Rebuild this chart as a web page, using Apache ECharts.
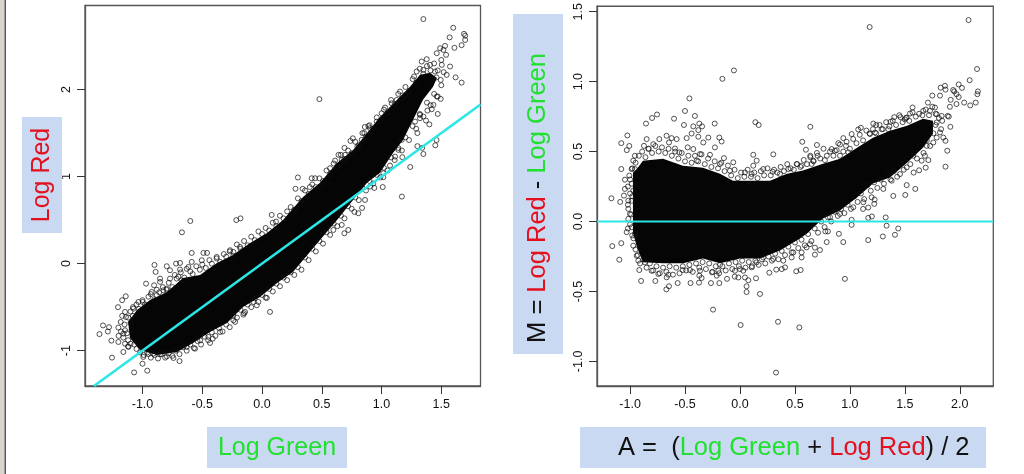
<!DOCTYPE html>
<html><head><meta charset="utf-8">
<style>html,body{margin:0;padding:0;background:#fff}#c{width:1024px;height:474px}</style>
<script src="https://cdn.jsdelivr.net/npm/echarts@6/dist/echarts.min.js"></script>
</head><body><div id="c"></div>
<script>
const leftXTicks=[-1,-0.5,0,0.5,1,1.5];
const leftYTicks=[-1,0,1,2];
const rightXTicks=[-1,-0.5,0,0.5,1,1.5,2];
const rightYTicks=[-1,-0.5,0,0.5,1,1.5];
const leftIdentity=[[-1.406,-1.406],[1.828,1.828]];
const rightBaseline=[[-1.301,0],[2.305,0]];
// Solid-black dense core of each cloud, outline
const leftCore=[[-1.12,-0.67],[-1.046,-0.532],[-0.937,-0.417],[-0.795,-0.325],[-0.661,-0.164],[-0.519,-0.13],[-0.377,0.008],[-0.243,0.10],[-0.10,0.238],[0.042,0.353],[0.176,0.502],[0.343,0.767],[0.485,0.928],[0.628,1.157],[0.762,1.307],[0.879,1.502],[0.987,1.686],[1.13,1.882],[1.238,2.031],[1.322,2.169],[1.406,2.192],[1.464,2.134],[1.431,2.031],[1.347,1.882],[1.264,1.652],[1.18,1.422],[1.096,1.272],[0.987,1.043],[0.879,0.928],[0.762,0.732],[0.628,0.502],[0.485,0.272],[0.259,-0.095],[0.126,-0.222],[-0.017,-0.383],[-0.159,-0.498],[-0.293,-0.682],[-0.435,-0.785],[-0.577,-0.912],[-0.711,-1.015],[-0.879,-1.049],[-1.021,-0.992],[-1.105,-0.854]];
const rightCore=[[-0.974,0.114],[-0.974,0.349],[-0.937,0.378],[-0.883,0.435],[-0.70,0.449],[-0.519,0.399],[-0.337,0.385],[-0.182,0.342],[-0.064,0.292],[0.118,0.292],[0.273,0.292],[0.428,0.342],[0.573,0.364],[0.755,0.413],[0.91,0.449],[1.065,0.527],[1.21,0.599],[1.365,0.649],[1.52,0.684],[1.665,0.734],[1.756,0.72],[1.756,0.627],[1.665,0.527],[1.52,0.42],[1.365,0.314],[1.21,0.271],[1.065,0.171],[0.91,0.078],[0.755,0.021],[0.61,-0.086],[0.546,-0.121],[0.364,-0.207],[0.182,-0.264],[0,-0.264],[-0.182,-0.299],[-0.337,-0.264],[-0.519,-0.299],[-0.70,-0.299],[-0.883,-0.292],[-0.937,-0.185],[-0.974,-0.078]];
const leftPoints=[[1.35,2.81],[1.60,2.71],[1.57,2.60],[1.69,2.64],[1.70,2.62],[1.70,2.57],[1.67,2.51],[1.61,2.48],[1.62,2.14],[1.67,2.08],[0.48,1.89],[1.47,1.72],[1.40,1.60],[1.30,1.50],[1.46,1.42],[1.45,1.36],[1.30,1.35],[1.34,1.33],[1.35,1.26],[1.24,1.11],[1.01,0.88],[0.94,0.87],[1.17,0.77],[0.30,0.99],[0.28,0.86],[0.34,0.86],[0.40,0.88],[0.76,1.44],[0.74,1.41],[0.69,1.33],[0.64,1.25],[0.86,1.57],[0.89,1.58],[-0.60,0.49],[-0.67,0.36],[-0.215,0.50],[-0.18,0.52],
[-1.36,-0.81],[-1.33,-0.71],[-1.29,-0.78],[-1.28,-0.73],[-1.26,-0.885],[-1.255,-1.08],[-1.07,-1.25],[-0.96,-1.23],[-1.0,-1.15],[-1.205,-0.50],[-1.17,-0.42],[-1.14,-0.375],[-0.97,-0.23],[-0.90,-0.015],[-0.89,-0.095],[-0.69,-1.12],
[-1.034,-0.44],[-0.998,-0.44],[-1.076,-0.517],[-1.146,-0.555],[-1.138,-0.613],[-1.182,-0.67],[-1.202,-0.735],[-1.146,-0.766],[-1.16,-0.804],[-1.202,-0.90],[-1.146,-0.92],[-1.16,-1.015],[-1.118,-0.957],[-0.993,-1.072],[-0.951,-1.04],[-0.923,-0.325],[-0.881,-0.363],[-0.853,-0.172],[-0.853,-0.21],[-0.903,-0.249],[-0.825,-0.306],[-0.797,-0.03],[-0.77,-0.076],[-0.719,0],[-0.686,0.008],[-0.686,-0.068],[-0.77,-0.172],[-0.714,-0.172],[-0.672,-0.191],[-0.797,-0.287],[-0.588,0.02],[-0.616,-0.038],[-0.588,0.123],[-0.504,0.039],[-0.49,0.123],[-0.46,0.123],[-0.379,0.077],[-0.267,0.154],[-0.239,0.135],[-0.184,0.192],
[-0.797,-1.065],[-0.741,-1.084],[-0.853,-1.042],[-0.909,-1.034],[-0.63,-0.957],[-0.56,-0.977],[-0.518,-0.881],[-0.449,-0.842],[-0.435,-0.911],[-0.412,-0.862],[-0.351,-0.785],[-0.225,-0.67],[-0.239,-0.651],[-0.142,-0.555],[-0.156,-0.586],[-0.044,-0.478],[-0.072,-0.44],[0.04,-0.394],[0.067,-0.555],
[0.416,0.981],[0.444,0.981],[0.485,0.885],[0.541,0.924],[0.569,1.096],[0.611,1.184],[0.667,1.192],[0.695,1.25],[0.798,1.345],[0.834,1.422],[0.856,1.5],[0.904,1.556],[0.96,1.632],[1.001,1.728],[1.03,1.793],[1.085,1.843],[1.127,1.881],[1.155,1.977],[1.197,1.939],[1.272,2.15],[1.294,2.207],[1.336,2.322],[1.378,2.349],[1.35,2.226],[1.406,2.284],[1.462,2.418],[1.49,2.475],[1.531,2.502],[1.54,2.399],[1.518,2.456],[1.448,2.207],[1.504,2.284],[1.573,2.265],[1.545,2.169],[1.495,2.111],[1.462,1.92],[1.495,1.893],[1.434,1.824],[1.42,1.774],[1.384,1.759],[1.322,1.709],[1.322,1.671],[1.28,1.632],[1.372,1.644],
[1.169,1.422],[1.141,1.307],[1.113,1.23],[1.174,1.223],[1.071,1.127],[1.015,1.039],[1.015,0.993],[0.904,0.885],[0.862,0.732],[0.837,0.64],[0.806,0.579],[0.773,0.594],[0.722,0.387],[0.689,0.349],[0.667,0.445],[0.597,0.387],[0.117,0.483],[0.081,0.56]];
const leftRimUpper=[[-1.18,-0.78],[-1.15,-0.70],[-1.12,-0.62],[-1.1,-0.68],[-1.13,-0.8],[-1.09,-0.76],[-1.2,-0.83],[-1.08,-0.6],[-1.16,-0.85],[-1.12,-0.95],[-1.17,-0.6],[-1.1,-0.55],[-1.08,-0.50],[-1.05,-0.47],[-1.03,-0.52],[-1.0,-0.42],[-0.98,-0.47],[-0.95,-0.38],[-0.93,-0.35],[-0.9,-0.41],[-0.88,-0.30],[-0.86,-0.33],[-0.83,-0.27],[-0.8,-0.30],[-0.78,-0.22],[-0.75,-0.27],[-0.73,-0.13],[-0.7,-0.15],[-0.68,-0.10],[-0.65,-0.16],[-0.63,-0.06],[-0.6,-0.09],[-0.58,-0.12],[-0.55,-0.03],[-0.52,-0.07],[-0.5,-0.01],[-0.47,-0.05],[-0.44,0.04],[-0.42,0.0],[-0.38,0.06],[-0.35,0.02],[-0.32,0.11],[-0.3,0.08],[-0.27,0.14],[-0.24,0.09],[-0.21,0.22],[-0.18,0.17],[-0.15,0.26],[-0.12,0.21],[-0.09,0.31],[-0.06,0.27],[-0.03,0.37],[0,0.34],[0.03,0.41],[0.06,0.38],[0.09,0.47],[0.12,0.43],[0.15,0.55],[0.18,0.52],[0.21,0.60],[0.24,0.65],[0.27,0.62],[0.3,0.75],[0.33,0.72],[0.36,0.84],[0.39,0.80],[0.42,0.91],[0.45,0.88],[0.48,0.98],[0.51,0.95],[0.54,1.07],[0.57,1.03],[0.6,1.15],[0.63,1.12],[0.66,1.25],[0.69,1.20],[0.72,1.30],[0.75,1.27],[0.78,1.40],[0.81,1.36],[0.84,1.50],[0.87,1.46],[0.9,1.59],[0.93,1.55],[0.96,1.68],[0.99,1.64],[1.02,1.77],[1.05,1.73],[1.08,1.88],[1.11,1.83],[1.14,1.95],[1.17,1.90],[1.2,2.03],[1.23,1.98],[1.26,2.12],[1.29,2.08],[1.32,2.24],[1.35,2.18],[1.38,2.27],[1.41,2.22],[1.44,2.30],[1.47,2.22],[1.5,2.34],[1.52,2.2],[1.46,2.14],[1.5,2.05]];
const leftRimLower=[[-1.12,-0.88],[-1.1,-0.92],[-1.07,-0.93],[-1.05,-0.98],[-1.02,-1.02],[-0.99,-1.05],[-0.96,-1.02],[-0.93,-1.08],[-0.9,-1.05],[-0.87,-1.09],[-0.84,-1.04],[-0.81,-1.08],[-0.78,-1.03],[-0.75,-1.06],[-0.72,-1.0],[-0.69,-1.04],[-0.66,-0.96],[-0.63,-1.0],[-0.6,-0.93],[-0.57,-0.97],[-0.54,-0.89],[-0.51,-0.93],[-0.48,-0.84],[-0.45,-0.88],[-0.42,-0.79],[-0.39,-0.83],[-0.36,-0.74],[-0.33,-0.78],[-0.3,-0.70],[-0.27,-0.73],[-0.24,-0.60],[-0.21,-0.62],[-0.18,-0.53],[-0.15,-0.57],[-0.12,-0.47],[-0.09,-0.5],[-0.06,-0.40],[-0.03,-0.44],[0,-0.36],[0.03,-0.39],[0.06,-0.29],[0.09,-0.32],[0.12,-0.23],[0.15,-0.26],[0.18,-0.16],[0.21,-0.19],[0.24,-0.10],[0.27,-0.13],[0.3,-0.04],[0.33,-0.07],[0.36,0.07],[0.39,0.04],[0.42,0.17],[0.45,0.14],[0.48,0.26],[0.51,0.23],[0.54,0.36],[0.57,0.33],[0.6,0.46],[0.63,0.43],[0.66,0.55],[0.69,0.52],[0.72,0.66],[0.75,0.63],[0.78,0.76],[0.81,0.73],[0.84,0.87],[0.87,0.84],[0.9,0.95],[0.93,0.92],[0.96,1.02],[0.99,0.99],[1.02,1.1],[1.05,1.07],[1.08,1.22],[1.11,1.19],[1.14,1.33],[1.17,1.30],[1.2,1.45],[1.23,1.42],[1.26,1.58],[1.29,1.55],[1.32,1.72],[1.35,1.69],[1.38,1.85],[1.41,1.82],[1.44,1.95],[1.47,1.92]];
const rightPoints=[[-0.055,1.08],[-0.16,1.02],[-0.46,0.88],[-0.50,0.79],[-0.41,0.755],[-0.60,0.735],[-0.755,0.765],[-0.80,0.74],[-0.855,0.70],[-0.51,0.69],[-0.425,0.68],[-0.37,0.70],[-0.345,0.68],[-0.23,0.70],[0.14,0.71],[0.17,0.69],[-1.025,0.615],[-1.08,0.56],[-1.007,0.54],[-1.03,0.51],[-1.08,0.375],[-1.17,0.166],[-1.09,0.14],
[2.08,1.44],[1.18,1.39],[2.157,1.09],[2.09,1.01],[1.99,0.98],[2.02,0.955],[1.94,0.94],[1.95,0.93],[1.97,0.91],[1.99,0.89],[2.165,0.93],[2.16,0.91],[2.145,0.85],[2.095,0.83],[2.04,0.85],[1.826,0.957],[1.865,0.97],[1.87,0.943],[1.75,0.90],[1.82,0.90],[1.71,0.85],[1.917,0.87],[1.97,0.84],[1.91,0.82],[1.57,0.815],[1.90,0.75],[1.89,0.755],[1.914,0.677],[1.87,0.577],[1.886,0.506],[1.87,0.392],[0.64,0.677],[0.567,0.57],[0.70,0.547],[0.60,0.513],[0.64,0.47],[0.707,0.47],[0.303,0.48],[1.10,0.67],[1.076,0.658],[1.016,0.625],[0.94,0.596],[0.895,0.56],[1.213,0.70],[1.24,0.69],[1.37,0.713],[1.404,0.746],[1.46,0.746],[1.50,0.73],[1.395,0.183],[1.504,0.19],[1.517,0.26],[1.595,0.233],[1.69,0.385],[1.63,0.366],[1.58,0.35],[1.326,0.029],[1.334,-0.03],[1.44,-0.05],[1.41,-0.095],[1.30,-0.107],[1.2,0.036],[1.167,0.026],[1.016,0.012],[1.016,-0.024],[0.90,-0.088],[0.80,-0.071],[0.777,-0.071],[1.225,0.157],[1.222,0.126],[1.167,0.10],[1.12,0.09],
[0.328,-1.08],[-0.245,-0.63],[0.006,-0.74],[0.346,-0.717],[0.54,-0.757],[0.182,-0.518],[0.06,-0.504],[0.06,-0.463],[0.076,-0.42],[0.045,-0.40],[0.955,-0.41],[-0.67,-0.485],[-0.646,-0.463],[-0.90,-0.425],[-0.77,-0.425],[-0.567,-0.44],[-0.45,-0.44],[-0.373,-0.437],[-0.264,-0.44],[-0.188,-0.44],[-0.118,-0.41],[-0.048,-0.394],[-0.015,-0.40],[0.146,-0.406],[0.512,-0.356],[0.552,-0.347],[0.41,-0.328],[0.38,-0.34],[0.33,-0.344],[0.267,-0.366],[1.167,-0.133],[0.94,-0.147],[0.789,-0.147],[0.728,-0.204],[0.682,-0.187],[0.682,-0.237],[-1.162,-0.176],[-1.08,-0.155],[-1.098,-0.273],[-0.916,-0.347],
[-0.849,0.589],[-0.874,0.541],[-0.834,0.52],[-0.789,0.553],[-0.734,0.589],[-0.668,0.613],[-0.622,0.596],[-0.576,0.589],[-0.646,0.565],[-0.592,0.522],[-0.552,0.494],[-0.485,0.596],[-0.44,0.629],[-0.379,0.653],[-0.379,0.606],[-0.334,0.565],[-0.288,0.6],[-0.188,0.6],[-0.167,0.572],[-0.228,0.53],[-0.146,0.453],[-0.061,0.423],[0.121,0.477],[0.152,0.435],[0.121,0.399],[-0.476,0.53],[-0.425,0.518],[-0.364,0.482],[-0.394,0.435],[-0.273,0.477],[-0.182,0.411],[-0.091,0.363],[0.045,0.351],[0.106,0.34],[-0.956,0.47],[-0.971,0.435],[-1.007,0.328],[-1.047,0.299],[-1.047,0.233],[-1.056,0.185],[-1.016,0.149],[-0.986,0.149],[-1.016,0.09],[-1.001,0.054],[-1.016,0.019],[-1.031,-0.076],[-0.986,-0.041],[-0.956,-0.088],[-0.986,0.375],[-0.956,0.375],[-0.925,0.268],[-0.971,0.221],
[-0.971,-0.173],[-0.94,-0.245],[-0.925,-0.28],[-0.865,-0.292],[-0.804,-0.352],[-0.743,-0.375],[-0.652,-0.38],[-0.667,-0.399],[-0.522,-0.347],[-0.455,-0.347],[-0.364,-0.352],[-0.37,-0.387],[-0.349,-0.404],[-0.255,-0.363],[-0.197,-0.352],[-0.212,-0.387],[-0.182,-0.309],[-0.046,-0.352],[0,-0.34],[0.03,-0.352],[0.106,-0.328],[0.151,-0.292],[0.212,-0.257],[0.303,-0.268],[0.394,-0.28],[0.47,-0.257],[0.485,-0.221],[0.561,-0.221],[0.561,-0.257],[0.606,-0.185],[0.637,-0.162],
[0.212,0.375],[0.297,0.356],[0.364,0.34],[0.44,0.375],[0.516,0.411],[0.561,0.399],[0.652,0.411],[0.667,0.435],[0.773,0.439],[0.834,0.518],[0.864,0.506],[0.91,0.47],[0.964,0.541],[0.986,0.494],[1.183,0.625],[1.228,0.636],[1.289,0.66],[1.35,0.66],[1.517,0.743],[1.547,0.772],[1.668,0.791],[1.729,0.791],[1.774,0.815],[1.79,0.767],[1.835,0.755],[1.79,0.708],[1.82,0.637],[1.85,0.6],[1.759,0.565],[1.699,0.541],[1.683,0.47],[1.714,0.439],[1.653,0.435],[1.577,0.47],[1.517,0.387],[1.456,0.339],[1.38,0.292],[1.304,0.233],[1.198,0.173],[1.122,0.138],[1.031,0.102],[0.91,0.054],[0.819,0.031]];
const rightRimUpper=[[-1.0,0.3],[-1.02,0.25],[-1.0,0.2],[-1.02,0.12],[-0.99,0.05],[-1.0,-0.02],[-1.02,-0.05],[-0.98,-0.1],[-0.98,0.18],[-0.985,0.27],[-0.98,0.38],[-0.95,0.42],[-0.92,0.47],[-0.89,0.5],[-0.86,0.46],[-0.83,0.52],[-0.8,0.49],[-0.77,0.54],[-0.74,0.5],[-0.71,0.53],[-0.68,0.49],[-0.65,0.52],[-0.62,0.47],[-0.59,0.5],[-0.56,0.45],[-0.53,0.49],[-0.5,0.43],[-0.47,0.47],[-0.44,0.42],[-0.41,0.47],[-0.38,0.43],[-0.35,0.48],[-0.32,0.41],[-0.29,0.45],[-0.26,0.39],[-0.23,0.43],[-0.2,0.38],[-0.17,0.42],[-0.14,0.36],[-0.11,0.40],[-0.08,0.33],[-0.05,0.37],[-0.02,0.31],[0.01,0.35],[0.04,0.32],[0.07,0.37],[0.1,0.32],[0.13,0.35],[0.16,0.31],[0.19,0.36],[0.22,0.33],[0.25,0.38],[0.28,0.33],[0.31,0.37],[0.34,0.35],[0.37,0.39],[0.4,0.36],[0.43,0.41],[0.46,0.38],[0.49,0.37],[0.52,0.41],[0.55,0.39],[0.58,0.44],[0.61,0.41],[0.64,0.46],[0.67,0.43],[0.7,0.49],[0.73,0.45],[0.76,0.52],[0.79,0.47],[0.82,0.5],[0.85,0.47],[0.88,0.51],[0.91,0.55],[0.94,0.5],[0.97,0.57],[1.0,0.52],[1.03,0.59],[1.06,0.56],[1.09,0.62],[1.12,0.58],[1.15,0.65],[1.18,0.63],[1.21,0.66],[1.24,0.63],[1.27,0.69],[1.3,0.66],[1.33,0.71],[1.36,0.68],[1.39,0.72],[1.42,0.69],[1.45,0.76],[1.48,0.71],[1.51,0.74],[1.54,0.72],[1.57,0.78],[1.6,0.75],[1.63,0.77],[1.66,0.76],[1.69,0.8],[1.72,0.76],[1.75,0.82],[1.78,0.77],[1.81,0.74],[1.84,0.72],[1.78,0.69],[1.83,0.66]];
const rightRimLower=[[-0.97,-0.12],[-0.95,-0.2],[-0.93,-0.24],[-0.91,-0.3],[-0.88,-0.27],[-0.85,-0.33],[-0.82,-0.3],[-0.79,-0.35],[-0.76,-0.32],[-0.73,-0.37],[-0.7,-0.33],[-0.67,-0.36],[-0.64,-0.32],[-0.61,-0.38],[-0.58,-0.33],[-0.55,-0.37],[-0.52,-0.32],[-0.49,-0.35],[-0.46,-0.31],[-0.43,-0.36],[-0.4,-0.3],[-0.37,-0.33],[-0.34,-0.29],[-0.31,-0.34],[-0.28,-0.3],[-0.25,-0.36],[-0.22,-0.32],[-0.19,-0.37],[-0.16,-0.32],[-0.13,-0.35],[-0.1,-0.3],[-0.07,-0.34],[-0.04,-0.29],[-0.01,-0.32],[0.02,-0.28],[0.05,-0.33],[0.08,-0.29],[0.11,-0.32],[0.14,-0.28],[0.17,-0.31],[0.2,-0.27],[0.23,-0.3],[0.26,-0.25],[0.29,-0.28],[0.32,-0.23],[0.35,-0.27],[0.38,-0.21],[0.41,-0.24],[0.44,-0.18],[0.47,-0.22],[0.5,-0.15],[0.53,-0.19],[0.56,-0.13],[0.59,-0.17],[0.62,-0.09],[0.65,-0.14],[0.68,-0.05],[0.71,-0.08],[0.74,0],[0.77,-0.04],[0.8,0.03],[0.83,0],[0.86,0.07],[0.89,0.04],[0.92,0.09],[0.95,0.06],[0.98,0.12],[1.01,0.09],[1.04,0.18],[1.07,0.14],[1.1,0.2],[1.13,0.16],[1.16,0.26],[1.19,0.22],[1.22,0.28],[1.25,0.24],[1.28,0.3],[1.31,0.27],[1.34,0.34],[1.37,0.3],[1.4,0.36],[1.43,0.32],[1.46,0.41],[1.49,0.37],[1.52,0.45],[1.55,0.41],[1.58,0.49],[1.61,0.45],[1.64,0.54],[1.67,0.49],[1.7,0.58],[1.73,0.54],[1.76,0.63],[1.79,0.6]];

const C={red:'#e3101e',green:'#22e030',ink:'#111111',box:'#c9d9f1',axis:'#555555',cyan:'#2ce6e6'};
const FF='"Liberation Sans",Arial,sans-serif';
const chart=echarts.init(document.getElementById('c'),null,{renderer:'canvas'});
const fmtY=v=>String(v);
const fmt1=v=>Number(v).toFixed(1);
function axis(gi,min,max,ticks,fmt,rot,margin){
  return {type:'value',gridIndex:gi,min,max,scale:true,splitLine:{show:false},
    axisLine:{show:true,onZero:false,lineStyle:{color:C.axis,width:1.3}},
    axisTick:{show:true,length:8,lineStyle:{color:'#333',width:1},customValues:ticks},
    axisLabel:{show:true,customValues:ticks,formatter:fmt,rotate:rot,margin,hideOverlap:false,showMinLabel:true,showMaxLabel:true,
      color:'#111',fontFamily:FF,fontSize:12.5}};
}
function coreSeries(x,core){
  return {type:'custom',xAxisIndex:x,yAxisIndex:x,data:core,z:2,silent:true,clip:true,
    renderItem:(p,api)=>p.dataIndex!==0?null:({type:'polygon',shape:{points:core.map(c=>api.coord(c))},style:{fill:'#050505'}})};
}
function ptSeries(x,pts){
  return {type:'scatter',xAxisIndex:x,yAxisIndex:x,data:pts,z:3,symbol:'circle',symbolSize:5,silent:true,
    itemStyle:{color:'rgba(0,0,0,0)',borderColor:C.ink,borderWidth:0.9}};
}
function lineSeries(x,pts,w){
  return {type:'line',xAxisIndex:x,yAxisIndex:x,data:pts,z:4,symbol:'none',silent:true,lineStyle:{color:C.cyan,width:w}};
}
function label(x,y,text,rotate,align,fs){
  const s=fs||25;
  return {type:'text',z:10,x,y,rotation:rotate?Math.PI/2:0,style:{text,align:align||'center',verticalAlign:'middle',fontFamily:FF,fontSize:s,
    rich:{r:{fill:C.red,fontSize:s,fontFamily:FF},g:{fill:C.green,fontSize:s,fontFamily:FF},k:{fill:C.ink,fontSize:s,fontFamily:FF}}}};
}
function box(x,y,w,h){return {type:'rect',z:9,shape:{x,y,width:w,height:h},style:{fill:C.box}};}
chart.setOption({
  animation:false,backgroundColor:'#ffffff',
  grid:[
    {left:85,top:5.5,width:395.5,height:380.5,show:true,borderColor:C.axis,borderWidth:1.3,backgroundColor:'#fff'},
    {left:597,top:5.5,width:396.3,height:380.5,show:true,borderColor:C.axis,borderWidth:1.3,backgroundColor:'#fff'}
  ],
  xAxis:[axis(0,-1.481,1.828,leftXTicks,fmt1,0,12),axis(1,-1.301,2.305,rightXTicks,fmt1,0,12)],
  yAxis:[axis(0,-1.406,2.966,leftYTicks,fmtY,90,12),axis(1,-1.176,1.539,rightYTicks,fmt1,90,12)],
  series:[coreSeries(0,leftCore),ptSeries(0,leftPoints.concat(leftRimUpper,leftRimLower)),lineSeries(0,leftIdentity,2.6),
          coreSeries(1,rightCore),ptSeries(1,rightPoints.concat(rightRimUpper,rightRimLower)),lineSeries(1,rightBaseline,2.2)],
  graphic:[
    {type:'rect',z:9,shape:{x:0,y:0,width:4.5,height:474},style:{fill:'#d8d4cc'}},
    {type:'rect',z:9,shape:{x:4.5,y:0,width:1.5,height:474},style:{fill:'#555'}},
    box(22,117,40,116),box(207,427,140,41),box(513,14,50,340),box(580,427,406,41),
    label(42,175,'{r|Log Red}',true),
    label(277,448,'{g|Log Green}',false),
    label(538,198,'{k|M = }{r|Log Red}{k| - }{g|Log Green}',true,'center',25.5),
    label(618,448,'{k|A =  (}{g|Log Green}{k| + }{r|Log Red}{k|) / 2}',false,'left',25.5)
  ]
});
</script></body></html>
